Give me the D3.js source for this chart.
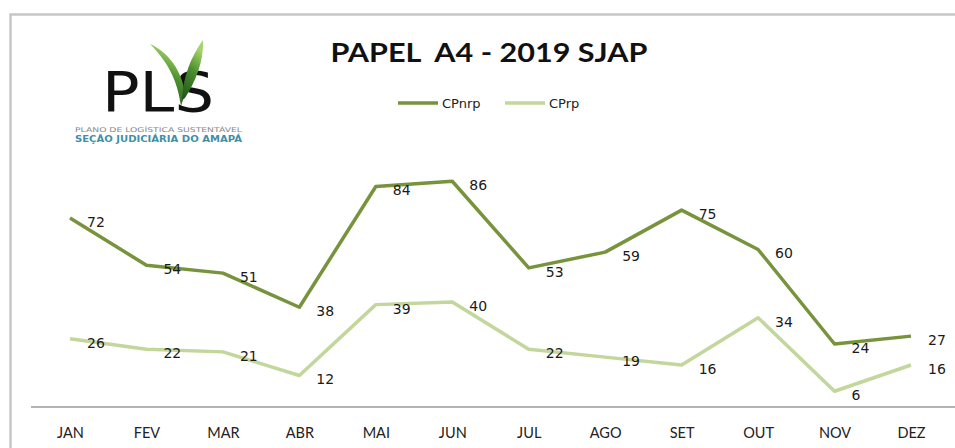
<!DOCTYPE html>
<html><head><meta charset="utf-8">
<script src="https://cdn.jsdelivr.net/npm/d3@7"></script>
<style>
html,body{margin:0;padding:0;background:#fff;}
svg{display:block;}
</style></head>
<body>
<svg id="chart" width="955" height="448"></svg>
<script>
const months = ["JAN","FEV","MAR","ABR","MAI","JUN","JUL","AGO","SET","OUT","NOV","DEZ"];
const cpnrp = [72,54,51,38,84,86,53,59,75,60,24,27];
const cprp  = [26,22,21,12,39,40,22,19,16,34,6,16];
const seriesNames = ["CPnrp","CPrp"];
const titleText = "PAPEL  A4 - 2019 SJAP";

const svg = d3.select("#chart");
const colors = {CPnrp:"#77933c", CPrp:"#c3d69b"};

// frame
svg.append("path").attr("d","M10.5,448 V14.5 H955").attr("fill","none").attr("stroke","#c6c6c6").attr("stroke-width",2.5);

const x = d3.scalePoint().domain(months).range([70, 911]);
const y = d3.scaleLinear().domain([0,100]).range([407, 144.5]);

// category axis
svg.append("line").attr("x1",31).attr("x2",955).attr("y1",y(0)).attr("y2",y(0)).attr("stroke","#9a9a9a").attr("stroke-width",1.5);
const xAxis = d3.axisBottom(x).tickSize(0).tickPadding(0);
const gx = svg.append("g").attr("transform",`translate(0,${y(0)})`).call(xAxis);
gx.select(".domain").remove();
gx.selectAll("text").attr("y",26).attr("dy","0.35em").attr("fill","#222")
  .style("font-family","Lato, 'Liberation Sans', sans-serif").style("font-size","14.5px");

// lines
const data = [{name:"CPnrp", values:cpnrp},{name:"CPrp", values:cprp}];
const line = d3.line().x((d,i)=>x(months[i])).y(d=>y(d));
data.forEach(s=>{
  svg.append("path").datum(s.values).attr("d",line).attr("fill","none")
    .attr("stroke",colors[s.name]).attr("stroke-width",3.5).attr("stroke-linejoin","round");
});
data.forEach(s=>{
  svg.append("g").selectAll("text").data(s.values).join("text")
    .attr("x",(d,i)=>x(months[i])+17).attr("y",d=>y(d)+4).attr("dy","0.35em")
    .attr("fill","#1a1a1a").style("font-family","'DejaVu Sans', sans-serif").style("font-size","14px")
    .text(d=>d);
});

// title
svg.append("text").attr("x",489).attr("y",62).attr("text-anchor","middle")
  .style("white-space","pre").attr("xml:space","preserve")
  .style("font-family","Lato, 'Liberation Sans', sans-serif").style("font-weight","700").style("font-size","27px")
  .attr("fill","#111").attr("textLength",317).attr("lengthAdjust","spacingAndGlyphs").text(titleText);

// legend
const lg = svg.append("g");
const legX = [398, 505];
seriesNames.forEach((n,i)=>{
  lg.append("line").attr("x1",legX[i]).attr("x2",legX[i]+40).attr("y1",103).attr("y2",103)
    .attr("stroke",colors[n]).attr("stroke-width",3.5);
  lg.append("text").attr("x",legX[i]+44).attr("y",103).attr("dy","0.35em")
    .style("font-family","'DejaVu Sans', sans-serif").style("font-size","13px").attr("fill","#222").text(n);
});

// logo
const logo = svg.append("g");
const defs = svg.append("defs");
const grad = defs.append("linearGradient").attr("id","leaf").attr("x1","0").attr("y1","1").attr("x2","0.3").attr("y2","0");
grad.append("stop").attr("offset","0").attr("stop-color","#1d4f1d");
grad.append("stop").attr("offset","0.6").attr("stop-color","#4c8f2e");
grad.append("stop").attr("offset","1").attr("stop-color","#a6d46a");
logo.append("text").attr("x",102).attr("y",111)
  .style("font-family","'DejaVu Sans', sans-serif").style("font-weight","400").style("font-size","55px")
  .attr("fill","#111").attr("textLength",112).attr("lengthAdjust","spacingAndGlyphs").text("PLS");
// leaves
logo.append("path").attr("d","M181,106 C178,86 172,66 150,44 C168,52 182,70 185,94 Z").attr("fill","url(#leaf)");
logo.append("path").attr("d","M182,100 C183,78 190,58 203,40 C204,62 195,82 185,98 Z").attr("fill","url(#leaf)");
logo.append("text").attr("x",75).attr("y",132).style("font-family","'DejaVu Sans', sans-serif").style("font-size","6.5px")
  .attr("fill","#888").attr("textLength",167).attr("lengthAdjust","spacingAndGlyphs").text("PLANO DE LOGÍSTICA SUSTENTÁVEL");
logo.append("text").attr("x",75).attr("y",142).style("font-family","'DejaVu Sans', sans-serif").style("font-size","9px").style("font-weight","700")
  .attr("fill","#3f8fa8").attr("textLength",167).attr("lengthAdjust","spacingAndGlyphs").text("SEÇÃO JUDICIÁRIA DO AMAPÁ");
</script>
</body></html>
